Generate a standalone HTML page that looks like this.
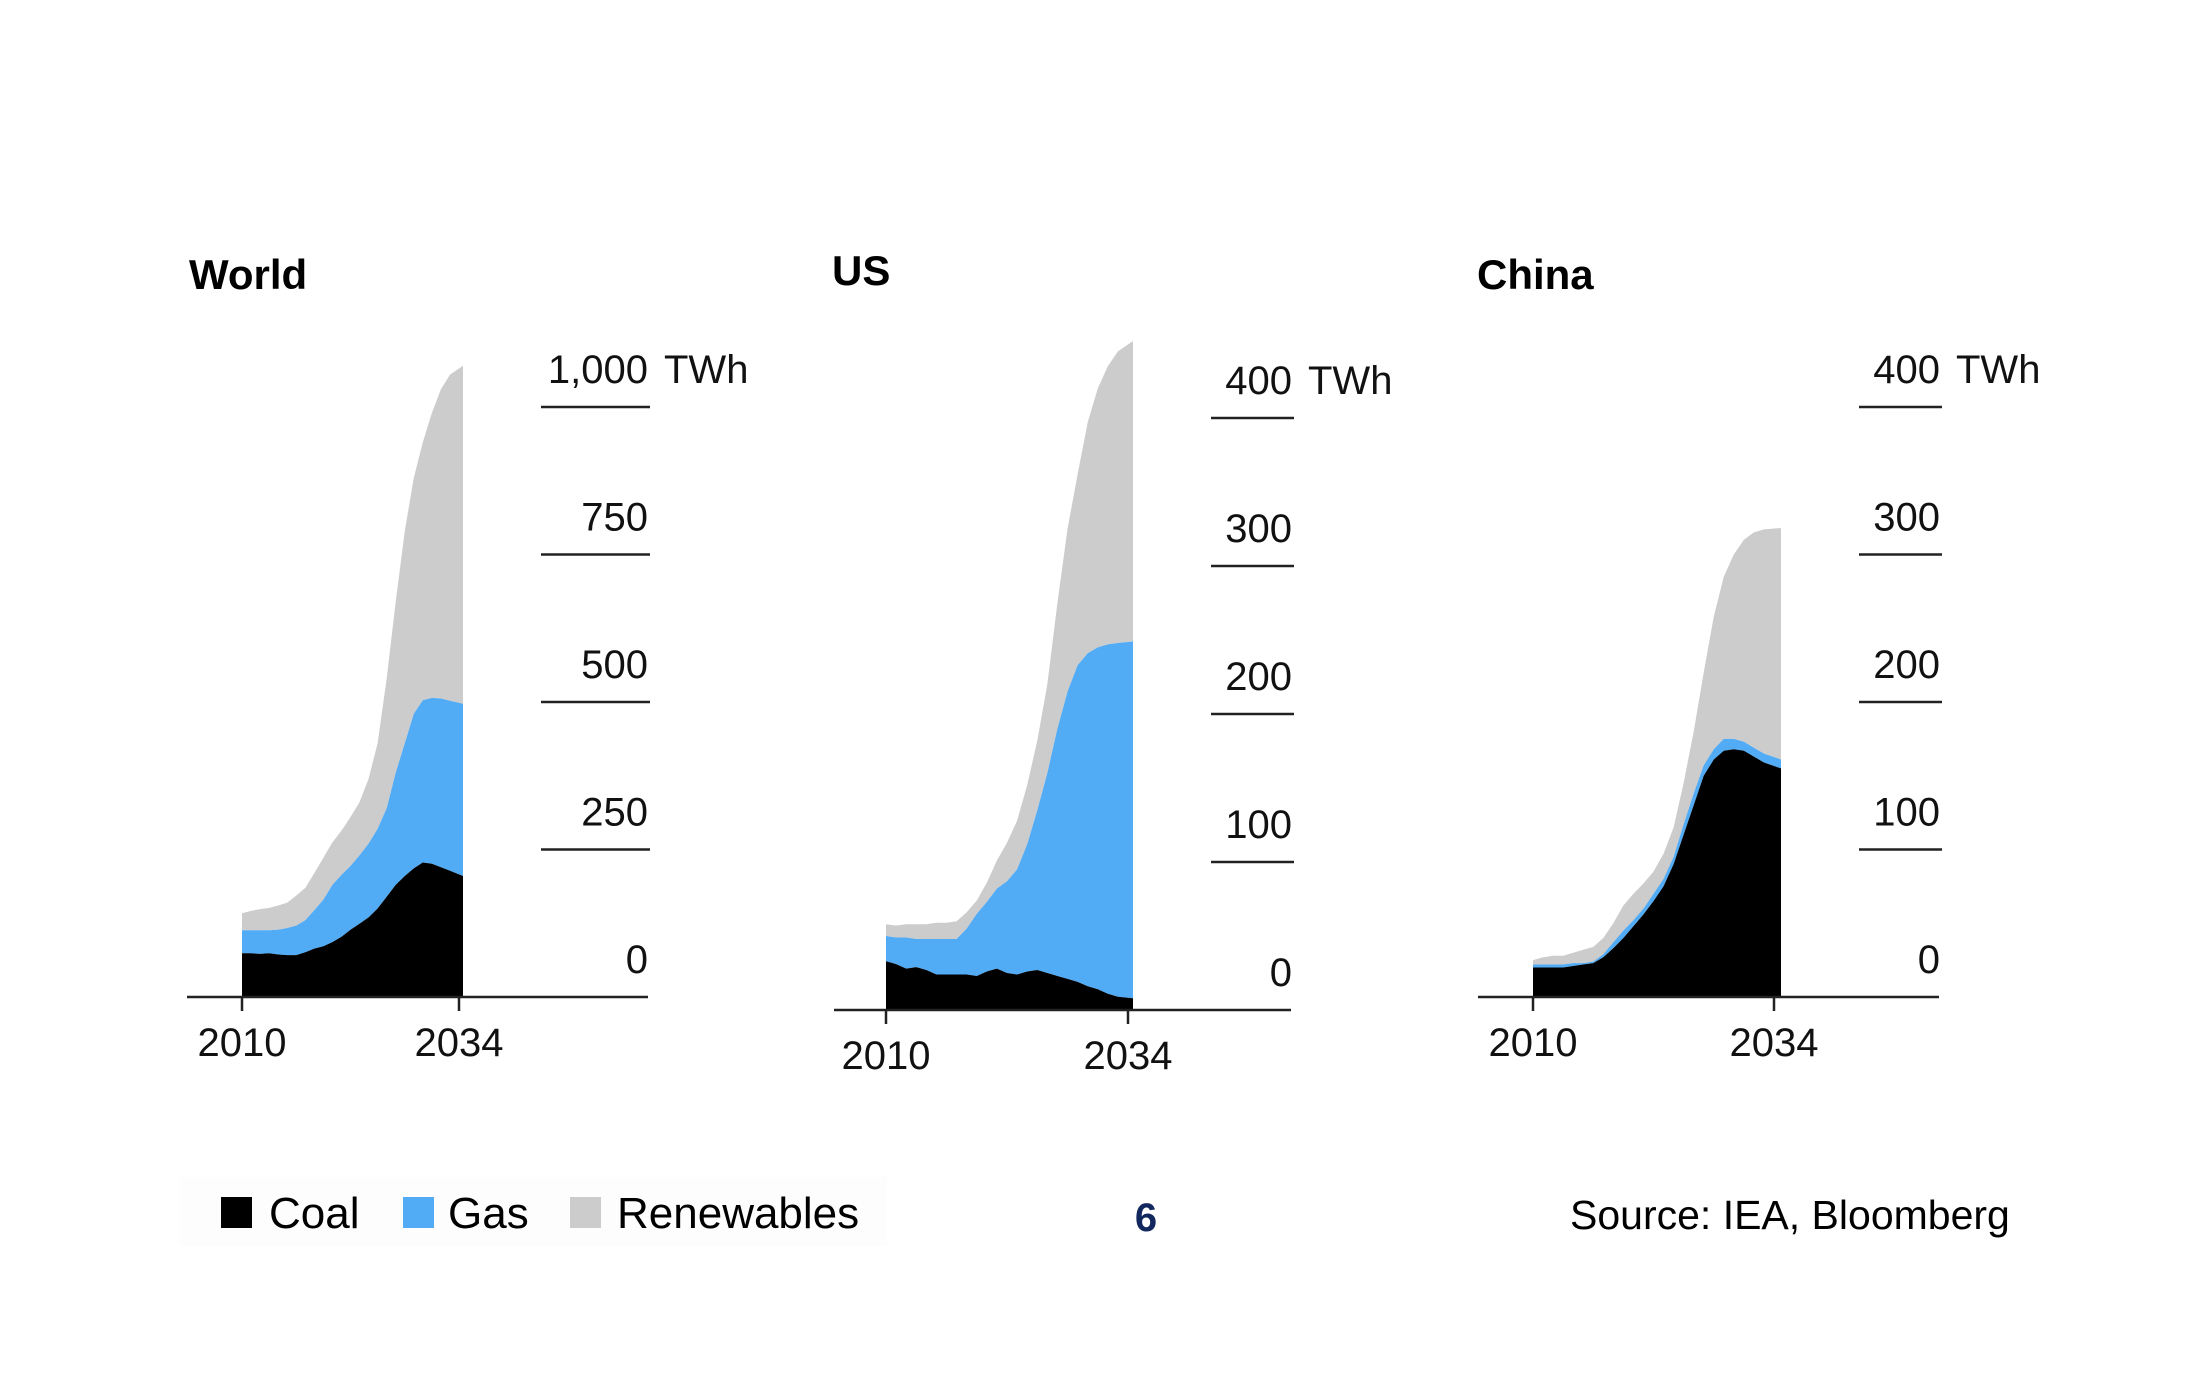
<!DOCTYPE html>
<html><head><meta charset="utf-8"><style>
html,body{margin:0;padding:0;background:#fff;}
svg{display:block;font-family:"Liberation Sans",Arial,sans-serif;}
</style></head><body>
<svg id="chart" width="2208" height="1392" viewBox="0 0 2208 1392" xmlns="http://www.w3.org/2000/svg">
<text x="189" y="289" font-size="42" font-weight="bold">World</text>
<text x="832" y="285" font-size="42" font-weight="bold">US</text>
<text x="1477" y="289" font-size="42" font-weight="bold">China</text>
<g id="panels"></g>
<rect x="180" y="1177" width="707" height="69" fill="#fdfdfd"/>
<rect x="221" y="1197" width="31" height="31" fill="#000"/>
<text x="269" y="1228" font-size="44">Coal</text>
<rect x="403" y="1197" width="31" height="31" fill="#52abf5"/>
<text x="448" y="1228" font-size="44">Gas</text>
<rect x="570" y="1197" width="31" height="31" fill="#cccccc"/>
<text x="617" y="1228" font-size="44">Renewables</text>
<text x="1146" y="1231" font-size="40" font-weight="bold" fill="#12275e" text-anchor="middle">6</text>
<text x="1570" y="1229" font-size="41">Source: IEA, Bloomberg</text>
</svg>
<script>
const years = [2010,2011,2012,2013,2014,2015,2016,2017,2018,2019,2020,2021,2022,2023,2024,2025,2026,2027,2028,2029,2030,2031,2032,2033,2034];
const worldCoal = [74,74,73,74,72,71,71,76,82,86,93,102,114,124,135,150,170,190,205,218,228,226,220,214,205];
const worldGas = [39,39,40,39,42,46,50,54,65,79,97,105,108,116,125,135,150,190,225,262,275,281,286,288,292];
const worldRen = [29,33,36,38,41,43,51,55,63,71,72,75,83,90,110,145,220,290,360,400,437,483,524,553,573];
const worldTicks = [0,250,500,750,1000];
const worldTickLabels = ["0","250","500","750","1,000 TWh"];
const usCoal = [33,31,28,29,27,24,24,24,24,23,26,28,25,24,26,27,25,23,21,19,16,14,11,9,8];
const usGas = [17,18,21,19,21,24,24,24,31,42,47,54,62,71,86,108,135,167,194,214,225,231,236,239,241];
const usRen = [8,8,9,10,10,11,11,12,11,9,13,19,26,33,40,47,60,85,110,129,156,175,188,197,203];
const usTicks = [0,100,200,300,400];
const usTickLabels = ["0","100","200","300","400 TWh"];
const chinaCoal = [20,20,20,20,21,22,23,27,33,40,48,56,65,75,90,110,130,150,161,167,168,167,163,159,155];
const chinaGas = [2,2,2,2,2,1,1,2,4,5,4,4,5,5,5,7,8,7,7,8,7,6,6,6,6];
const chinaRen = [3,5,6,6,7,9,10,11,13,17,18,17,15,17,20,28,42,63,90,110,125,137,146,152,157];
const chinaTicks = [0,100,200,300,400];
const chinaTickLabels = ["0","100","200","300","400 TWh"];
const xTickYears = [2010,2034];

const NS = "http://www.w3.org/2000/svg";
const root = document.getElementById('panels');
function mk(tag, attrs, parent){const e=document.createElementNS(NS,tag);for(const k in attrs)e.setAttribute(k,attrs[k]);parent.appendChild(e);return e;}

function panel(name, cfg, coal, gas, ren, ticks, tickLabels){
  const g = mk('g',{},root);
  
  
  const xS = y => cfg.x0 + (y - 2010) * (cfg.x1 - cfg.x0) / 24;
  const yS = v => cfg.base - v * cfg.pxPer;
  const layers = [[coal,'#000000','coal'],[gas,'#52abf5','gas'],[ren,'#cccccc','renewables']];
  const cum = years.map(()=>0);
  const tops = [];
  layers.forEach(l=>{const lo=cum.slice();l[0].forEach((v,i)=>cum[i]+=v);tops.push([lo,cum.slice()]);});
  for(let k=layers.length-1;k>=0;k--){
    const [lo,hi]=tops[k];
    let d='';
    years.forEach((y,i)=>{const xx=(i===years.length-1)?xS(y)+cfg.ext:xS(y);d+=(i?'L':'M')+xx.toFixed(1)+','+yS(hi[i]).toFixed(1);});
    for(let i=years.length-1;i>=0;i--){const xx=(i===years.length-1)?xS(years[i])+cfg.ext:xS(years[i]);d+='L'+xx.toFixed(1)+','+yS(lo[i]).toFixed(1);}
    d+='Z';
    const p = mk('path',{d:d,fill:layers[k][1]},g);
    
    
  }
  const bl = mk('line',{x1:cfg.bx0,x2:cfg.bx1,y1:cfg.base,y2:cfg.base,stroke:'#222','stroke-width':2.5},g);
  
  
  xTickYears.forEach(y=>{
    const t = mk('line',{x1:xS(y),x2:xS(y),y1:cfg.base,y2:cfg.base+14,stroke:'#222','stroke-width':2.5},g);
    
    
    const tx = mk('text',{x:xS(y),y:cfg.base+59,'font-size':40,'text-anchor':'middle',fill:'#111'},g);
    tx.textContent = y;
    
    
  });
  ticks.forEach((v,i)=>{
    if(v!==0){
      const l = mk('line',{x1:cfg.tx0,x2:cfg.tx1,y1:yS(v),y2:yS(v),stroke:'#222','stroke-width':2.5},g);
      
      
    }
    const lab = tickLabels[i];
    const num = lab.replace(' TWh','');
    const tt = mk('text',{x:cfg.tx1-2,y:yS(v)-24,'font-size':40,'text-anchor':'end',fill:'#111'},g);
    tt.textContent = num;
    
    
    if(lab.indexOf('TWh')>=0){
      const u = mk('text',{x:cfg.tx1+14,y:yS(v)-24,'font-size':40,fill:'#111'},g);
      u.textContent = 'TWh';
      
      
    }
  });
}
panel('world',{x0:242,x1:459,ext:4,base:997,pxPer:147.5/250,bx0:187,bx1:648,tx0:541,tx1:650},worldCoal,worldGas,worldRen,worldTicks,worldTickLabels);
panel('us',{x0:886,x1:1128,ext:5,base:1010,pxPer:148/100,bx0:834,bx1:1291,tx0:1211,tx1:1294},usCoal,usGas,usRen,usTicks,usTickLabels);
panel('china',{x0:1533,x1:1774,ext:7,base:997,pxPer:147.5/100,bx0:1478,bx1:1939,tx0:1859,tx1:1942},chinaCoal,chinaGas,chinaRen,chinaTicks,chinaTickLabels);
</script>
</body></html>
